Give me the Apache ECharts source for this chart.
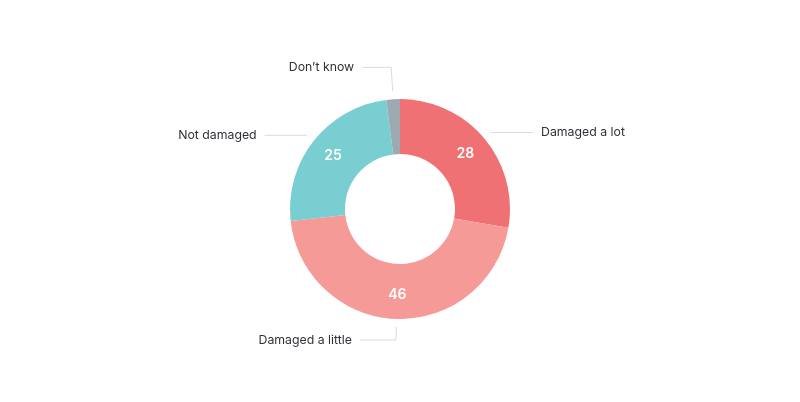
<!DOCTYPE html>
<html>
<head>
<meta charset="utf-8">
<script src="https://cdn.jsdelivr.net/npm/echarts@6/dist/echarts.min.js"></script>
<style>
  html, body { margin: 0; padding: 0; background: #fff; }
  #chart { width: 800px; height: 402px; }
</style>
</head>
<body>
<div id="chart"></div>
<script>
// answers, clockwise from 12 o'clock
const categories = ["Damaged a lot", "Damaged a little", "Not damaged", "Don\u2019t know"];
const values = [28, 46, 25, 2];
const colors = ["#f07173", "#f69a98", "#79ced1", "#9eaab2"];
// leader line lengths per answer (first segment, horizontal segment)
const lineLen = [1, 13, 1, 24];
const lineLen2 = [42, 36, 42, 29];

const chart = echarts.init(document.getElementById("chart"), null, { renderer: "canvas" });

const data = categories.map((name, i) => ({
  name: name,
  value: values[i],
  itemStyle: { color: colors[i] }
}));

const option = {
  animation: false,
  textStyle: { fontFamily: "Inter" },
  series: [
    {
      // value labels inside the ring
      type: "pie",
      center: ["50%", "52%"],
      radius: [55, 110],
      startAngle: 90,
      clockwise: true,
      silent: true,
      itemStyle: { borderWidth: 0 },
      label: {
        show: true,
        position: "inside",
        color: "#fff",
        fontSize: 14,
        fontWeight: 600,
        fontFamily: "Inter",
        formatter: p => (p.value >= 5 ? p.value : "")
      },
      labelLine: { show: false },
      data: data
    },
    {
      // category names outside, lines start a little off the ring
      type: "pie",
      center: ["50%", "52%"],
      radius: [55, 118],
      startAngle: 90,
      clockwise: true,
      silent: true,
      z: 1,
      itemStyle: { color: "rgba(0,0,0,0)", borderWidth: 0 },
      label: {
        show: true,
        position: "outside",
        color: "#2e3238",
        fontSize: 12.3,
        fontFamily: "Inter",
        formatter: "{b}",
        distanceToLabelLine: 8
      },
      labelLine: {
        show: true,
        lineStyle: { color: "#d5dbe0", width: 1 }
      },
      data: data.map((d, i) => ({
        name: d.name,
        value: d.value,
        labelLine: { length: lineLen[i], length2: lineLen2[i] }
      }))
    }
  ]
};

chart.setOption(option);
</script>
</body>
</html>
